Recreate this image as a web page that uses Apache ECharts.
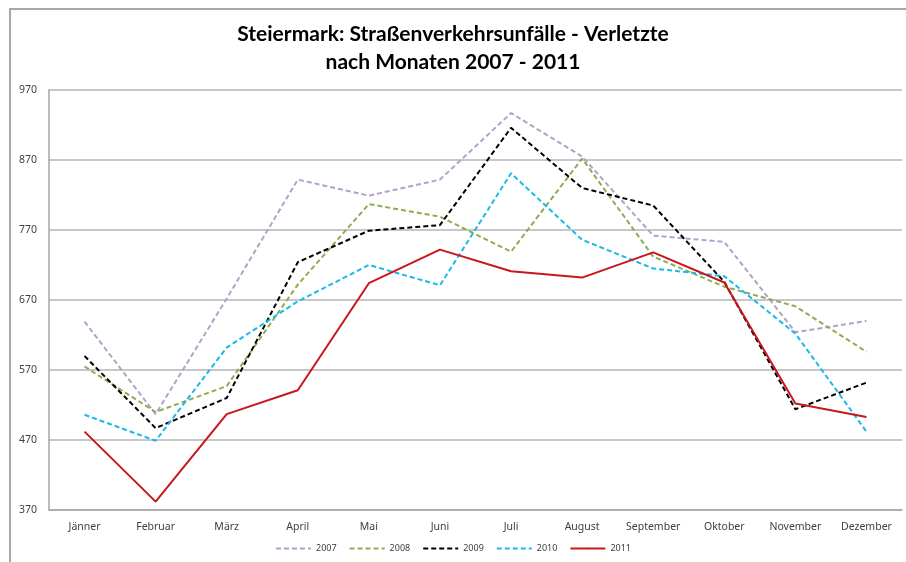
<!DOCTYPE html>
<html>
<head>
<meta charset="utf-8">
<script src="https://cdn.jsdelivr.net/npm/echarts@6/dist/echarts.min.js"></script>
<style>
  html, body { margin: 0; padding: 0; background: #fff; }
  #chart { width: 906px; height: 562px; }
</style>
</head>
<body>
<div id="chart"></div>
<script>
// Monate
const months = ['Jänner', 'Februar', 'März', 'April', 'Mai', 'Juni', 'Juli', 'August', 'September', 'Oktober', 'November', 'Dezember']

// Verletzte je Monat
const y2007 = [639, 507, 672, 842, 819, 842, 937, 875, 762, 753, 624, 640]
const y2008 = [575, 510, 547, 692, 807, 789, 739, 872, 732, 689, 661, 596]
const y2009 = [590, 487, 530, 724, 769, 777, 916, 830, 805, 696, 514, 552]
const y2010 = [506, 469, 602, 668, 720, 691, 851, 756, 715, 704, 622, 482]
const y2011 = [482, 382, 507, 541, 694, 742, 711, 702, 738, 695, 522, 503]

const yTicks = [370, 470, 570, 670, 770, 870, 970]

const myChart = echarts.init(document.getElementById('chart'))

function lineSeries(name, data, color, dashed) {
  return {
    name: name,
    type: 'line',
    data: data,
    symbol: 'none',
    lineStyle: {
      color: color,
      width: 2,
      type: dashed ? [5, 3] : 'solid'
    },
    itemStyle: { color: color }
  }
}

const option = {
  animation: false,
  backgroundColor: '#fff',
  title: {
    text: 'Steiermark: Straßenverkehrsunfälle - Verletzte\nnach Monaten 2007 - 2011',
    left: 'center',
    top: 15,
    textStyle: {
      fontFamily: 'Lato',
      fontWeight: 'bold',
      fontSize: 21,
      lineHeight: 28,
      color: '#000'
    }
  },
  legend: {
    bottom: 4,
    left: 'center',
    itemWidth: 35,
    itemHeight: 2,
    itemGap: 12,
    textStyle: { fontSize: 9, color: '#404040', fontFamily: 'Noto Sans' },
    data: ['2007', '2008', '2009', '2010', '2011']
  },
  grid: {
    left: 49,
    right: 4,
    top: 90,
    bottom: 52
  },
  xAxis: {
    type: 'category',
    data: months,
    boundaryGap: true,
    axisLine: { lineStyle: { color: '#a6a6a6', width: 1.5 } },
    axisTick: { show: false },
    axisLabel: { interval: 0, fontSize: 10.5, color: '#404040', margin: 12, fontFamily: 'Noto Sans' }
  },
  yAxis: {
    type: 'value',
    min: yTicks[0],
    max: yTicks[yTicks.length - 1],
    interval: 100,
    axisLine: { show: true, lineStyle: { color: '#a6a6a6', width: 1.5 } },
    axisTick: { show: false },
    splitLine: { lineStyle: { color: '#b4b4b4', width: 1.5 } },
    axisLabel: { fontSize: 10.5, color: '#404040', margin: 12, fontFamily: 'Noto Sans' }
  },
  graphic: [{
    type: 'rect',
    shape: { x: 10, y: 9, width: 1000, height: 700 },
    style: { fill: 'none', stroke: '#8c8c8c', lineWidth: 1.5 },
    silent: true
  }],
  series: [
    lineSeries('2007', y2007, '#b3a2c7', true),
    lineSeries('2008', y2008, '#8fac55', true),
    lineSeries('2009', y2009, '#000000', true),
    lineSeries('2010', y2010, '#1bb8ec', true),
    lineSeries('2011', y2011, '#c8161d', false)
  ]
}

myChart.setOption(option)
</script>
</body>
</html>
